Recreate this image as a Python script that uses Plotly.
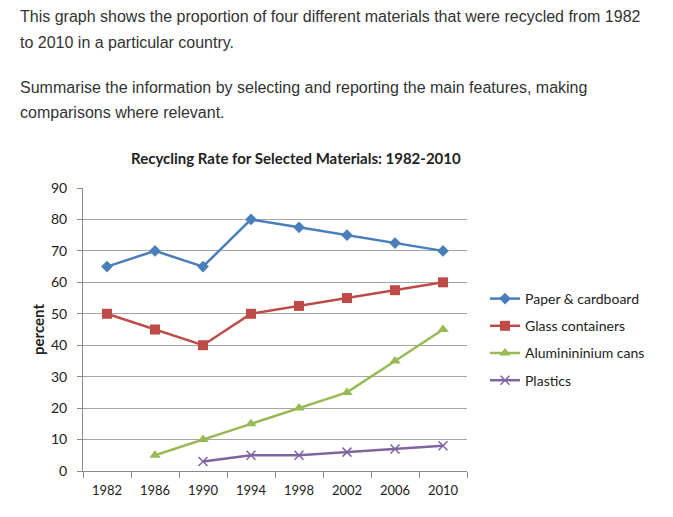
import plotly.graph_objects as go

years = ["1982", "1986", "1990", "1994", "1998", "2002", "2006", "2010"]
paper = [65, 70, 65, 80, 77.5, 75, 72.5, 70]
glass = [50, 45, 40, 50, 52.5, 55, 57.5, 60]
alu = [None, 5, 10, 15, 20, 25, 35, 45]
plastics = [None, None, 3, 5, 5, 6, 7, 8]
y_ticks = [0, 10, 20, 30, 40, 50, 60, 70, 80, 90]

W, H = 673, 517
L, R, T, B = 83, 467, 188, 471

def px(x):
    return (x - L) / (R - L)

def py(y):
    return (B - y) / (B - T)

fig = go.Figure()
series = [
    ("Paper & cardboard", paper, "#4A7EBB", dict(symbol="diamond", size=9)),
    ("Glass containers", glass, "#BE4B48", dict(symbol="square", size=10)),
    ("Aluminininium cans", alu, "#98B954", dict(symbol="triangle-up", size=10)),
    ("Plastics", plastics, "#8064A2", dict(symbol="x-thin", size=9, line=dict(width=1.5, color="#8064A2"))),
]
for name, vals, col, mk in series:
    fig.add_trace(go.Scatter(
        x=years, y=vals, name=name, mode="lines+markers",
        line=dict(color=col, width=2.5),
        marker=dict(color=col, **mk),
        legendgroup=name,
        connectgaps=False,
    ))

font_chart = "Lato, 'Open Sans', sans-serif"
fig.update_layout(
    width=W, height=H,
    margin=dict(l=L, r=W - R, t=T, b=H - B, pad=0),
    paper_bgcolor="white", plot_bgcolor="white",
    showlegend=True,
    legend=dict(x=px(485), y=py(283), xanchor="left", yanchor="top",
                font=dict(family=font_chart, size=14, color="#222"),
                tracegroupgap=6, itemwidth=30, bgcolor="rgba(0,0,0,0)"),
    xaxis=dict(type="category", tickson="boundaries", ticks="outside", ticklen=6,
               tickcolor="#888", showline=True, linecolor="#888", showgrid=False,
               ticklabelstandoff=7,
               tickfont=dict(family=font_chart, size=13, color="#222"),
               range=[-0.5, 7.5]),
    yaxis=dict(range=[0, 90], tickvals=y_ticks, ticks="outside", ticklen=5,
               tickcolor="#888", showline=True, linecolor="#888",
               showgrid=True, gridcolor="#a6a6a6", gridwidth=1,
               zeroline=False, ticklabelstandoff=7,
               tickfont=dict(family=font_chart, size=14, color="#222"),
               title=dict(text="<b>percent</b>", font=dict(family=font_chart, size=15, color="#222"),
                          standoff=2)),
)

ann_font = dict(family="'Liberation Sans', Arial, sans-serif", size=16, color="#333")
texts = [
    (18, 17, "This graph shows the proportion of four different materials that were recycled from 1982"),
    (18, 42, "to 2010 in a particular country."),
    (18, 88, "Summarise the information by selecting and reporting the main features, making"),
    (18, 112, "comparisons where relevant."),
]
for x, y, t in texts:
    fig.add_annotation(x=px(x), y=py(y), xref="paper", yref="paper", text=t,
                       showarrow=False, xanchor="left", yanchor="middle", font=ann_font)

fig.add_annotation(x=px(296), y=py(158), xref="paper", yref="paper",
                   text="<b>Recycling Rate for Selected Materials: 1982-2010</b>",
                   showarrow=False, xanchor="center", yanchor="middle",
                   font=dict(family=font_chart, size=15, color="#222"))

fig.write_html("out.html")
